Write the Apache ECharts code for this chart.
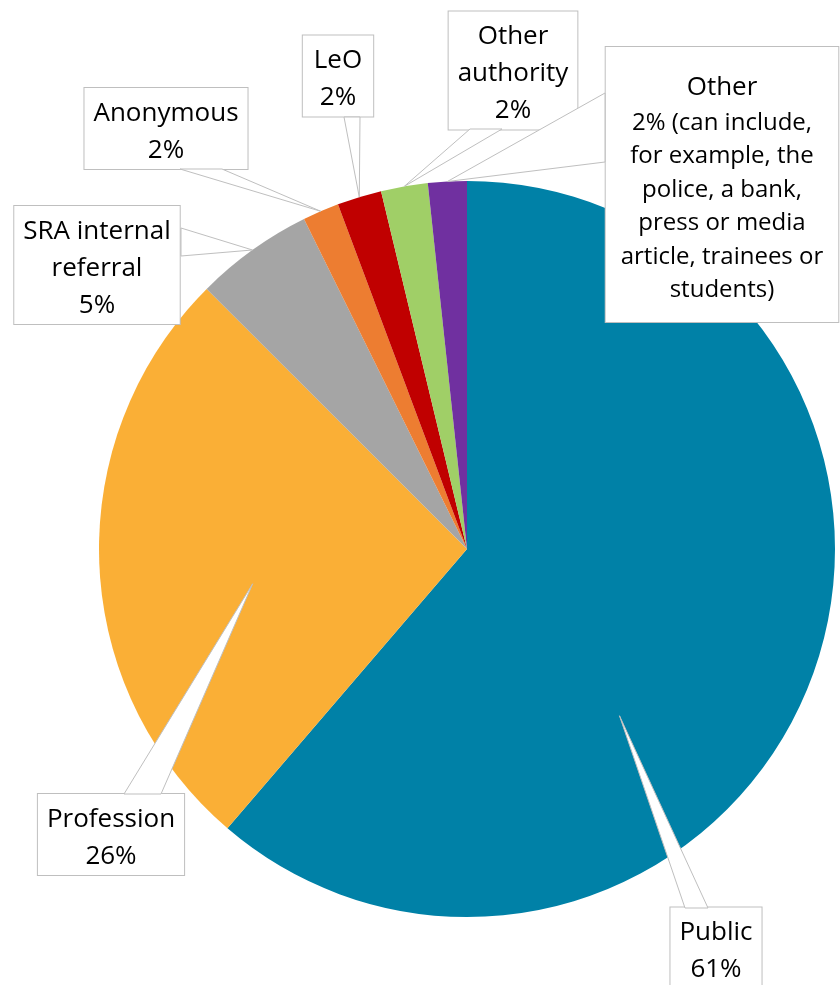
<!DOCTYPE html>
<html><head><meta charset="utf-8">
<script src="https://cdn.jsdelivr.net/npm/echarts@6/dist/echarts.min.js"></script>
<style>html,body{margin:0;padding:0;background:#fff}#c{width:840px;height:985px}</style>
</head><body><div id="c"></div>
<script>
// ---- data ----
const categories = ['Public', 'Profession', 'SRA internal referral', 'Anonymous', 'LeO', 'Other authority', 'Other'];
const labelNames = ['Public', 'Profession', 'SRA internal\nreferral', 'Anonymous', 'LeO', 'Other\nauthority', 'Other'];
const values = [61.25, 26.2, 5.2, 1.6, 1.95, 2.05, 1.7];
const labelSuffix = ['', '', '', '', '', '', ' (can include,\nfor example, the\npolice, a bank,\npress or media\narticle, trainees or\nstudents)'];
const colors = ['#0081A7', '#FAAF36', '#A5A5A5', '#ED7D31', '#C00000', '#A0CF67', '#7030A0'];

// ---- layout ----
const center = [467, 549], R = 368;
const labelCenters = [[716, 948], [111, 834.5], [97, 265], [166, 128.5], [338, 76], [513, 70.5], [722, 184.5]];
const labelPadding = [[7, 9, 0, 9], [7, 9, 0, 9], [7, 9, 0, 9], [7, 9, 0, 9], [7, 11, 0, 11], [7, 9, 0, 9], [22, 15, 15, 15]];
const smallDetail = [false, false, false, false, false, false, true];
const calloutBase = [
  [[685, 908], [708, 908]],
  [[124, 794], [161, 794]],
  [[181, 228], [181, 256]],
  [[180, 169], [222, 169]],
  [[344, 117], [360, 117]],
  [[470, 129], [502, 129]],
  [[605, 93], [605, 162]]
];
const tipAngleOffset = [27.25, -7, 0, 0, 0, 0, 0];
const tipRadiusFrac = [0.614, 0.59, 1, 1, 1, 1, 1];

const total = values.reduce((a, b) => a + b, 0);
let cum = 0;
const graphics = [];
values.forEach((v, i) => {
  const a0 = cum / total * 360;
  cum += v;
  const a1 = cum / total * 360;
  const th = ((a0 + a1) / 2 + tipAngleOffset[i]) * Math.PI / 180;
  const r = R * tipRadiusFrac[i];
  const tip = [center[0] + r * Math.sin(th), center[1] - r * Math.cos(th)];
  graphics.push({
    type: 'polygon', z: 10, silent: true,
    shape: { points: [calloutBase[i][0], tip, calloutBase[i][1]] },
    style: { fill: '#fff', stroke: '#BFBFBF', lineWidth: 1 }
  });
});

const chart = echarts.init(document.getElementById('c'), null, { renderer: 'canvas' });
chart.setOption({
  animation: false,
  backgroundColor: '#fff',
  graphic: { elements: graphics },
  series: [{
    type: 'pie',
    center: center,
    radius: R,
    startAngle: 90,
    clockwise: true,
    avoidLabelOverlap: false,
    itemStyle: { borderWidth: 0 },
    labelLine: { show: false },
    label: {
      show: true,
      position: 'outside',
      fontFamily: 'Open Sans',
      fontSize: 26,
      lineHeight: 37,
      color: '#000',
      backgroundColor: '#fff',
      borderColor: '#BFBFBF',
      borderWidth: 1,
      align: 'center',
      rich: {
        n: { fontFamily: 'Open Sans', fontSize: 26, lineHeight: 37, color: '#000', align: 'center' },
        d: { fontFamily: 'Open Sans', fontSize: 24, lineHeight: 33.5, color: '#000', align: 'center' }
      },
      formatter: p => {
        const i = p.dataIndex;
        const pct = Math.round(p.percent) + '%' + labelSuffix[i];
        const st = smallDetail[i] ? 'd' : 'n';
        const nameLines = labelNames[i].split('\n').map(s => '{n|' + s + '}');
        const detLines = pct.split('\n').map(s => '{' + st + '|' + s + '}');
        return nameLines.concat(detLines).join('\n');
      }
    },
    labelLayout: params => ({
      x: labelCenters[params.dataIndex][0],
      y: labelCenters[params.dataIndex][1],
      align: 'center',
      verticalAlign: 'middle'
    }),
    emphasis: { disabled: true },
    data: categories.map((c, i) => ({
      name: c, value: values[i],
      itemStyle: { color: colors[i] },
      label: { padding: labelPadding[i] }
    }))
  }]
});
</script>
</body></html>
